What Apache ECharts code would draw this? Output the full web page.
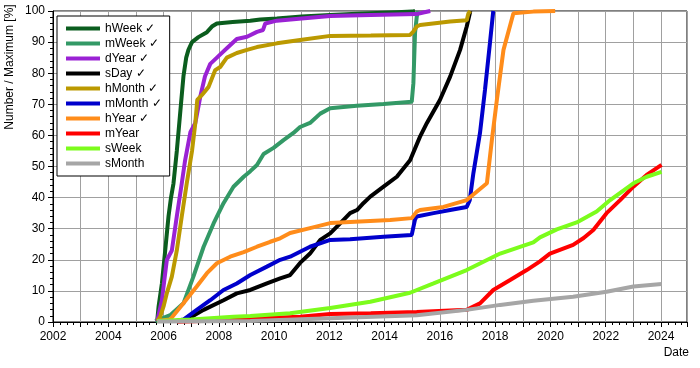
<!DOCTYPE html>
<html><head><meta charset="utf-8">
<script src="https://cdn.jsdelivr.net/npm/echarts@6/dist/echarts.min.js"></script>
<style>html,body{margin:0;padding:0;background:#fff}#c{width:700px;height:368px}</style>
</head><body><div id="c"></div>
<script>
const seriesNames = ['hWeek ✓','mWeek ✓','dYear ✓','sDay ✓','hMonth ✓','mMonth ✓','hYear ✓','mYear','sWeek','sMonth'];
const seriesColors = ['#0b5d1e','#339966','#9a22d4','#000000','#bb9900','#0000cc','#ff8c1a','#ff0000','#7cfc1c','#a6a6a6'];
const xTicks = {min: 2002, max: 2024.94, step: 1, labelEvery: 2};
const yTicks = {min: 0, max: 100, step: 10};

const hWeek = [[2005.77,0.3],[2005.82,5],[2005.94,12.4],[2006.06,23],[2006.18,34],[2006.27,40],[2006.36,44.6],[2006.48,55],[2006.54,61],[2006.63,70],[2006.72,79],[2006.82,85],[2006.9,87.5],[2007.03,90],[2007.26,91.6],[2007.57,93.2],[2007.75,95],[2007.93,96],[2008.5,96.5],[2009.14,96.9],[2009.5,97.3],[2010.1,97.6],[2011.0,98.2],[2012.03,98.7],[2013.0,99.1],[2014.44,99.6],[2015.0,99.8],[2015.1,100]];
const mWeek = [[2005.7,0.3],[2006.24,2.2],[2006.72,6],[2007.08,14.6],[2007.45,24.2],[2007.81,31.7],[2008.17,38.2],[2008.53,43.5],[2008.9,46.7],[2009.14,48.5],[2009.38,50.5],[2009.62,54],[2009.98,56],[2010.34,58.5],[2010.7,60.8],[2010.94,62.7],[2011.3,64],[2011.67,67],[2012.03,68.7],[2012.99,69.5],[2013.96,70.1],[2014.98,70.8],[2015.04,76.8],[2015.1,93],[2015.16,98],[2015.2,100]];
const dYear = [[2005.77,0.3],[2005.94,7],[2006.05,15],[2006.12,20],[2006.3,23],[2006.48,34],[2006.66,44.6],[2006.78,52],[2006.97,61],[2007.15,64],[2007.33,72.5],[2007.5,79],[2007.69,83],[2007.93,85],[2008.29,88],[2008.65,91],[2009.02,91.7],[2009.38,93.3],[2009.6,93.9],[2009.68,96],[2010.1,96.9],[2011.0,97.6],[2012.03,98.4],[2013.5,98.7],[2015.16,99],[2015.4,99.5],[2015.65,100]];
const sDay = [[2006.5,0.3],[2006.84,0.8],[2007.45,3.9],[2008.17,7],[2008.65,9.2],[2009.14,10.3],[2009.74,12.4],[2010.22,14],[2010.58,15.1],[2010.94,19],[2011.3,22],[2011.67,26.4],[2012.03,28.5],[2012.39,31.7],[2012.75,35],[2013.0,36],[2013.23,38.2],[2013.48,40.3],[2013.96,43.5],[2014.44,46.7],[2014.92,52],[2015.28,59.6],[2015.53,64],[2016.0,71.4],[2016.37,78.9],[2016.73,87.5],[2016.97,95],[2017.1,100]];
const hMonth = [[2005.77,0.3],[2005.88,1.7],[2006.0,5],[2006.12,9.3],[2006.3,14.6],[2006.48,23],[2006.66,34],[2006.84,44.6],[2007.03,55],[2007.15,64],[2007.22,71.4],[2007.39,73],[2007.63,75.6],[2007.87,81],[2008.05,82],[2008.29,85],[2008.65,86.5],[2009.02,87.5],[2009.38,88.4],[2010.1,89.6],[2010.94,90.7],[2012.03,92],[2013.5,92.1],[2014.92,92.3],[2015.03,93.3],[2015.16,95],[2015.28,95.5],[2016.37,96.6],[2016.97,97],[2017.03,99.2],[2017.1,100]];
const mMonth = [[2006.45,0.3],[2006.72,0.8],[2007.2,3.9],[2007.69,7],[2008.17,10.3],[2008.65,12.4],[2009.14,15.1],[2009.74,17.8],[2010.22,20],[2010.58,21],[2011.3,24.2],[2012.03,26.4],[2012.75,26.6],[2013.96,27.4],[2014.98,28],[2015.1,33],[2015.16,33.9],[2015.77,35],[2016.37,36],[2016.97,37],[2017.08,39.2],[2017.21,47.8],[2017.45,60.8],[2017.63,74.6],[2017.81,89.7],[2017.93,100]];
const hYear = [[2005.77,0.3],[2006.24,0.8],[2006.72,6],[2007.2,11.4],[2007.57,15.7],[2007.93,18.9],[2008.41,21],[2008.9,22.5],[2009.38,24.2],[2009.86,25.8],[2010.22,26.9],[2010.58,28.6],[2011.3,30.2],[2012.03,31.8],[2013.11,32.3],[2014.2,32.8],[2014.98,33.4],[2015.16,35.5],[2015.28,36],[2016.13,37],[2016.97,39.2],[2017.33,41.9],[2017.7,44.6],[2017.88,58.5],[2018.06,71.4],[2018.3,87.5],[2018.66,99.3],[2019.38,99.8],[2020.17,100]];
const mYear = [[2006.5,0.1],[2008.0,0.5],[2009.5,1.2],[2010.94,1.7],[2012.03,2.6],[2013.5,2.8],[2015.16,3.2],[2016.97,3.9],[2017.45,6],[2017.93,10.3],[2018.54,13.5],[2019.14,16.7],[2019.62,19.5],[2019.98,22],[2020.82,24.8],[2021.2,27],[2021.55,29.6],[2022.03,35],[2022.52,39.2],[2023.0,43.5],[2023.48,47.3],[2024.02,50.5]];
const sWeek = [[2005.77,0.3],[2007.0,0.8],[2008.53,1.7],[2009.14,1.9],[2010.58,2.8],[2012.03,4.5],[2013.48,6.5],[2014.56,8.7],[2014.92,9.4],[2015.77,12.4],[2016.97,16.7],[2018.18,22],[2019.38,25.6],[2019.62,27.2],[2020.23,29.8],[2020.95,32],[2021.67,35.5],[2022.16,39.2],[2023.0,44.6],[2023.48,46.7],[2024.02,48.3]];
const sMonth = [[2005.77,0.2],[2009.14,0.3],[2012.03,1.2],[2015.16,2.2],[2016.97,3.9],[2018.18,5.5],[2019.38,6.8],[2020.82,8.1],[2022.03,9.7],[2023.0,11.4],[2024.02,12.2]];

const seriesData = [hWeek, mWeek, dYear, sDay, hMonth, mMonth, hYear, mYear, sWeek, sMonth];
const FONT = '"Liberation Sans", Arial, sans-serif';

const chart = echarts.init(document.getElementById('c'), null, {renderer: 'canvas'});
chart.setOption({
  animation: false,
  textStyle: {fontFamily: FONT, fontSize: 12, color: '#000'},
  grid: {left: 53, right: 13, top: 11, bottom: 46, show: true, borderColor: '#000', borderWidth: 1, backgroundColor: 'transparent'},
  legend: {
    orient: 'vertical', left: 57, top: 16,
    padding: [5, 8, 5, 9], itemGap: 0,
    itemWidth: 34, itemHeight: 4, icon: 'rect',
    borderColor: '#000', borderWidth: 1, backgroundColor: '#fff',
    textStyle: {fontFamily: FONT, fontSize: 12, color: '#000', lineHeight: 15},
    data: seriesNames
  },
  xAxis: {
    type: 'value', min: xTicks.min, max: xTicks.max, interval: xTicks.step,
    name: 'Date', nameLocation: 'end', nameGap: 2,
    nameTextStyle: {fontFamily: FONT, fontSize: 12, color: '#000', align: 'right', verticalAlign: 'top', padding: [25, 0, 0, 0]},
    axisLine: {onZero: false, lineStyle: {color: '#000', width: 1}},
    axisTick: {show: true, length: 5, lineStyle: {color: '#000'}},
    minorTick: {show: true, splitNumber: 4, length: 3, lineStyle: {color: '#000'}},
    splitLine: {show: true, lineStyle: {color: '#a0a0a0', width: 1}},
    axisLabel: {margin: 9, color: '#000', fontFamily: FONT, fontSize: 12,
      formatter: v => (Math.abs(v - Math.round(v)) < 1e-6 && Math.round(v) % xTicks.labelEvery === 0) ? String(Math.round(v)) : ''}
  },
  yAxis: {
    type: 'value', min: yTicks.min, max: yTicks.max, interval: yTicks.step,
    axisLine: {show: true, lineStyle: {color: '#000', width: 1}},
    axisTick: {show: true, length: 5, lineStyle: {color: '#000'}},
    minorTick: {show: true, splitNumber: 5, length: 3, lineStyle: {color: '#000'}},
    splitLine: {show: true, lineStyle: {color: '#a0a0a0', width: 1}},
    axisLabel: {margin: 8, color: '#000', fontFamily: FONT, fontSize: 12}
  },
  graphic: [{
    type: 'text', x: 10, y: 67, rotation: Math.PI / 2,
    style: {text: 'Number / Maximum [%]', fill: '#000', font: '12px ' + FONT, align: 'center', verticalAlign: 'middle'}
  }],
  series: seriesNames.map((n, i) => ({
    name: n, type: 'line', data: seriesData[i], showSymbol: false, symbol: 'none',
    color: seriesColors[i],
    lineStyle: {width: 4, color: seriesColors[i]},
    emphasis: {disabled: true}
  }))
});
</script></body></html>
